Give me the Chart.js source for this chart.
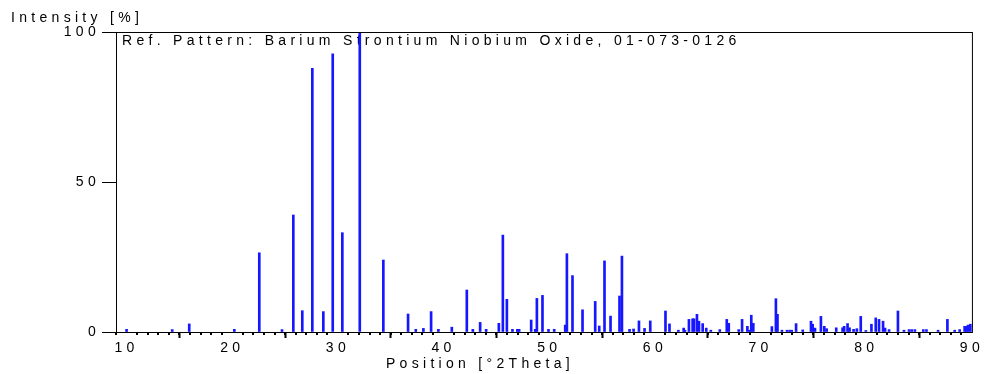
<!DOCTYPE html>
<html>
<head>
<meta charset="utf-8">
<script src="https://cdn.jsdelivr.net/npm/chart.js@4.4.1/dist/chart.umd.min.js"></script>
<style>
  html, body { margin: 0; padding: 0; background: #fff; }
  #wrap { width: 986px; height: 374px; }
</style>
</head>
<body>
<div id="wrap"><canvas id="xrdChart"></canvas></div>
<script>
// peak positions [°2Theta] and relative intensities [%]
const positions = [
    10.0, 14.32, 15.93, 20.2, 22.56, 24.71, 25.78, 26.63, 27.58, 28.62,
    29.51, 30.42, 32.07, 34.30, 36.64, 37.37, 38.09, 38.82, 39.51, 40.78,
    42.20, 42.77, 43.46, 44.03, 45.23, 45.61, 45.99, 46.52, 46.98, 47.15,
    48.29, 48.67, 48.83, 49.36, 49.93, 50.47, 51.51, 51.67, 52.20, 53.15,
    54.35, 54.73, 55.23, 55.80, 56.65, 56.88, 57.60, 57.98, 58.49, 59.02,
    59.56, 61.00, 61.38, 62.22, 62.72, 62.84, 63.22, 63.57, 63.70, 63.98,
    64.17, 64.52, 64.86, 65.29, 66.14, 66.80, 66.99, 67.93, 68.25, 68.75,
    68.96, 69.12, 69.31, 71.07, 71.45, 71.60, 72.02, 72.50, 72.75, 72.95,
    73.36, 73.99, 74.77, 74.93, 75.15, 75.71, 76.03, 76.25, 77.16, 77.76,
    77.91, 78.23, 78.42, 78.80, 79.11, 79.48, 79.96, 80.49, 80.90, 81.21,
    81.59, 81.78, 82.16, 83.00, 83.57, 84.05, 84.30, 84.60, 85.40, 85.70,
    86.80, 87.68, 88.37, 88.84, 89.31, 89.47, 89.63, 89.85
];
const intensities = [
    0.9, 0.8, 2.7, 0.9, 26.4, 0.8, 39.0, 7.1, 87.9, 6.8,
    92.7, 33.1, 100, 24.0, 6.0, 0.9, 1.2, 6.8, 0.9, 1.6,
    14.0, 0.9, 3.2, 0.9, 2.9, 32.3, 10.9, 0.9, 0.9, 0.9,
    4.0, 0.9, 11.2, 12.2, 0.9, 0.9, 2.3, 26.1, 18.8, 7.4,
    10.2, 2.0, 23.7, 5.3, 12.0, 25.3, 0.9, 1.0, 3.7, 1.2,
    3.7, 7.0, 2.7, 0.6, 1.3, 0.6, 4.2, 4.4, 4.4, 5.9,
    3.6, 2.8, 1.3, 0.6, 0.8, 4.2, 2.9, 0.8, 4.2, 1.9,
    0.6, 5.6, 2.9, 1.8, 11.1, 5.9, 0.6, 0.6, 0.6, 0.6,
    2.8, 0.7, 3.6, 2.6, 1.3, 5.2, 1.9, 1.1, 1.4, 1.4,
    1.9, 2.8, 1.4, 0.9, 1.1, 5.2, 0.5, 2.6, 4.7, 4.2,
    3.6, 1.3, 0.8, 7.0, 0.6, 0.8, 0.8, 0.8, 0.8, 0.8,
    0.6, 4.2, 0.6, 0.8, 1.9, 1.9, 2.3, 2.6
];
const xTicks = [10, 20, 30, 40, 50, 60, 70, 80, 90];
const yTicks = [0, 50, 100];
const refLabel = "Ref. Pattern: Barium Strontium Niobium Oxide, 01-073-0126";

const textFont = "14px 'Liberation Sans', Arial, sans-serif";
const spacing = "4.3px";

const xrdExtras = {
    id: "xrdExtras",
    beforeUpdate(chart) {
        chart.ctx.letterSpacing = spacing;
    },
    beforeDraw(chart) {
        chart.ctx.letterSpacing = spacing;
    },
    beforeDatasetsDraw(chart) {
        const ctx = chart.ctx;
        const a = chart.chartArea;
        ctx.save();
        ctx.font = textFont;
        ctx.fillStyle = "#000";
        ctx.textBaseline = "middle";
        ctx.textAlign = "left";
        ctx.fillText(refLabel, a.left + 6, a.top + 9);
        ctx.restore();
    },
    afterDraw(chart) {
        const ctx = chart.ctx;
        const a = chart.chartArea;
        const xs = chart.scales.x;
        ctx.save();
        ctx.strokeStyle = "#000";
        ctx.lineWidth = 1;
        ctx.strokeRect(a.left + 0.5, a.top + 0.5, a.right - a.left, a.bottom - a.top);
        // minor ticks every degree
        ctx.lineWidth = 2;
        for (let v = Math.ceil(xs.min); v <= xs.max; v++) {
            if (v % 10 === 0) continue;
            const px = Math.round(xs.getPixelForValue(v));
            ctx.beginPath();
            ctx.moveTo(px, a.bottom + 1);
            ctx.lineTo(px, a.bottom + 3);
            ctx.stroke();
        }
        ctx.font = textFont;
        ctx.fillStyle = "#000";
        ctx.textBaseline = "middle";
        ctx.textAlign = "left";
        ctx.fillText("Intensity [%]", 11, 18);
        ctx.textAlign = "center";
        ctx.fillText("Position [°2Theta]", 480, 364);
        ctx.restore();
    }
};

new Chart(
    document.getElementById("xrdChart"),
    {
        type: "bar",
        data: {
            datasets: [
                {
                    label: "Ref. Pattern",
                    data: positions.map((p, i) => ({ x: p, y: intensities[i] })),
                    backgroundColor: "#1616ff",
                    borderWidth: 0,
                    barThickness: 2
                }
            ]
        },
        options: {
            responsive: true,
            maintainAspectRatio: false,
            animation: false,
            layout: { padding: { top: 32, right: 14, bottom: 22, left: 0 } },
            plugins: {
                legend: { display: false },
                tooltip: { enabled: false }
            },
            scales: {
                x: {
                    type: "linear",
                    min: 9,
                    max: 90,
                    offset: false,
                    afterBuildTicks: axis => { axis.ticks = xTicks.map(v => ({ value: v })); },
                    afterFit: axis => { axis.height = 20; },
                    grid: { drawOnChartArea: false, tickLength: 6, tickColor: "#000", tickWidth: 2 },
                    border: { color: "#000" },
                    ticks: {
                        color: "#000",
                        font: { family: "'Liberation Sans', Arial, sans-serif", size: 14 },
                        padding: 2,
                        maxRotation: 0,
                        autoSkip: false
                    }
                },
                y: {
                    min: 0,
                    max: 100,
                    afterBuildTicks: axis => { axis.ticks = yTicks.map(v => ({ value: v })); },
                    afterFit: axis => { axis.width = 116; },
                    grid: { drawOnChartArea: false, tickLength: 14, tickColor: "#000" },
                    border: { color: "#000" },
                    ticks: {
                        color: "#000",
                        font: { family: "'Liberation Sans', Arial, sans-serif", size: 14 },
                        padding: 2
                    }
                }
            }
        },
        plugins: [xrdExtras]
    }
);
</script>
</body>
</html>
